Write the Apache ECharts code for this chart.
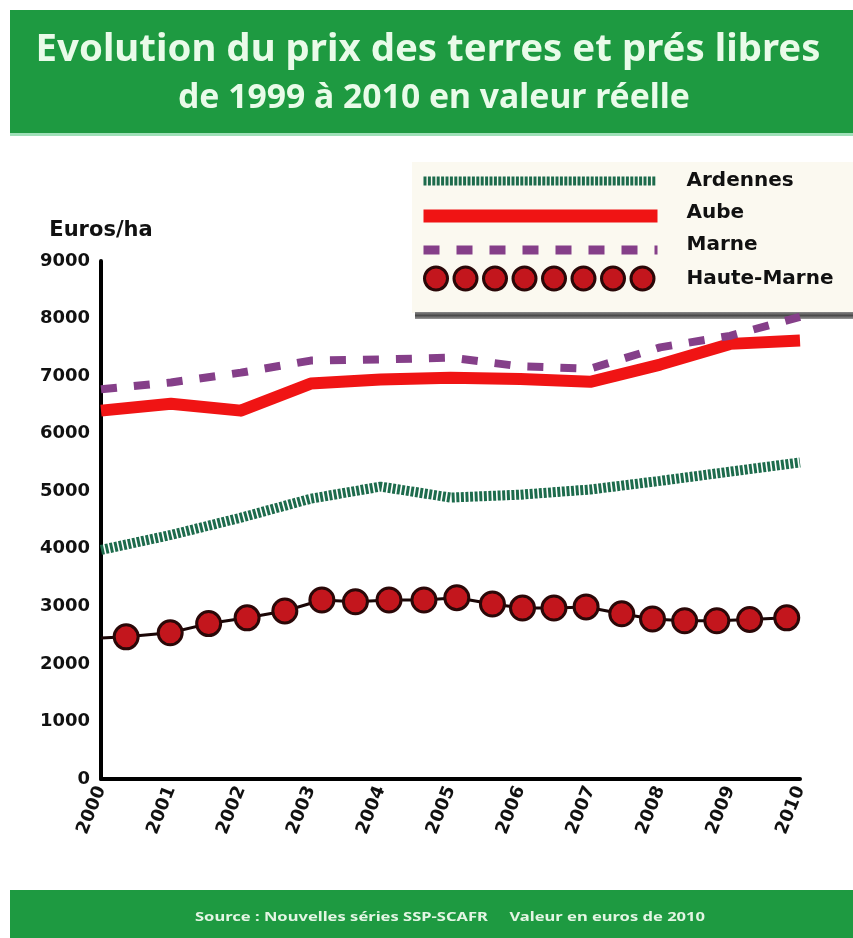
<!DOCTYPE html>
<html>
<head>
<meta charset="utf-8">
<script src="https://cdn.jsdelivr.net/npm/echarts@6/dist/echarts.min.js"></script>
<style>
html,body{margin:0;padding:0;background:#ffffff;}
#chart{width:853px;height:938px;}
</style>
</head>
<body>
<div id="chart"></div>
<script>
// ---- data ----
const years = [2000, 2001, 2002, 2003, 2004, 2005, 2006, 2007, 2008, 2009, 2010];
const yearLabels = ['2000', '2001', '2002', '2003', '2004', '2005', '2006', '2007', '2008', '2009', '2010'];
const ardennes = [3980, 4240, 4540, 4870, 5080, 4890, 4940, 5030, 5180, 5340, 5500];
const aube     = [6400, 6520, 6400, 6870, 6940, 6970, 6950, 6900, 7200, 7560, 7620];
const marne    = [6770, 6890, 7060, 7270, 7290, 7320, 7170, 7130, 7500, 7700, 8030];
// Haute-Marne is drawn as a chain of beads (positions in years, values in euros/ha)
const hauteMarneX = [2000, 2000.36, 2000.99, 2001.54, 2002.09, 2002.63, 2003.16, 2003.64, 2004.12, 2004.62, 2005.09,
                     2005.60, 2006.03, 2006.48, 2006.94, 2007.45, 2007.89, 2008.35, 2008.81, 2009.28, 2009.81, 2010];
const hauteMarneY = [2450, 2470, 2540, 2700, 2800, 2920, 3110, 3080, 3110, 3110, 3150,
                     3040, 2970, 2970, 2990, 2870, 2780, 2750, 2750, 2770, 2800, 2790];
const seriesNames = ['Ardennes', 'Aube', 'Marne', 'Haute-Marne'];
const yTickValues = [0, 1000, 2000, 3000, 4000, 5000, 6000, 7000, 8000, 9000];
const yTickLabels = ['0', '1000', '2000', '3000', '4000', '5000', '6000', '7000', '8000', '9000'];
const titleLine1 = 'Evolution du prix des terres et prés libres';
const titleLine2 = 'de 1999 à 2010 en valeur réelle';
const footerText = 'Source : Nouvelles séries SSP-SCAFR     Valeur en euros de 2010';
const yAxisName = 'Euros/ha';

// ---- styling helpers ----
const GREEN = '#1e9a41';
const C_ARD = '#1d6b4c', C_AUBE = '#f01414', C_MARNE = '#853f89', C_HM = '#c3161d';

function fitScale(text, font, target) {
  const ctx = document.createElement('canvas').getContext('2d');
  ctx.font = font;
  return target / ctx.measureText(text).width;
}

// legend icon paths (258 x 24 box)
function box() { return 'M0 0 M258 24 '; }
let ardIcon = box();
for (let x = 0; x < 232; x += 4.4) ardIcon += `M${x.toFixed(1)} 7.5 h3 v9 h-3 Z `;
const aubeIcon = box() + 'M0 8.5 h234 v13 h-234 Z';
let marneIcon = box();
for (let i = 0; i < 7; i++) marneIcon += `M${i * 33} 12.5 h16 v9 h-16 Z `;
marneIcon += 'M231 12.5 h3 v9 h-3 Z';
let hmIcon = box();
for (let i = 0; i < 8; i++) {
  const cx = 12.5 + i * 29.5, r = 11.5;
  hmIcon += `M${cx - r} 12 a${r} ${r} 0 1 0 ${2 * r} 0 a${r} ${r} 0 1 0 ${-2 * r} 0 Z `;
}

const f1 = 'bold 38px "Noto Sans"';
const f2 = 'bold 34px "Noto Sans"';
const f3 = 'bold 12px "Noto Sans"';
const s1 = fitScale(titleLine1, f1, 785);
const s2 = fitScale(titleLine2, f2, 512);
const s3 = fitScale(footerText, f3, 510);

const chart = echarts.init(document.getElementById('chart'), null, { renderer: 'canvas' });

const option = {
  animation: false,
  backgroundColor: '#ffffff',
  graphic: [
    { type: 'rect', shape: { x: 10, y: 10, width: 843, height: 124 }, style: { fill: GREEN }, z: 0 },
    { type: 'rect', shape: { x: 10, y: 133, width: 843, height: 3 }, style: { fill: '#9fe0b8' }, z: 0 },
    { type: 'text', x: 428, y: 50, scaleX: s1, z: 1,
      style: { text: titleLine1, fontSize: 38, fontWeight: 'bold', fontFamily: 'Noto Sans', fill: '#e9fbe9', align: 'center', verticalAlign: 'middle' } },
    { type: 'text', x: 434, y: 98, scaleX: s2, z: 1,
      style: { text: titleLine2, fontSize: 34, fontWeight: 'bold', fontFamily: 'Noto Sans', fill: '#e9fbe9', align: 'center', verticalAlign: 'middle' } },
    { type: 'rect', shape: { x: 10, y: 890, width: 843, height: 48 }, style: { fill: GREEN }, z: 0 },
    { type: 'text', x: 450, y: 918, scaleX: s3, z: 1,
      style: { text: footerText, fontSize: 12, fontWeight: 'bold', fontFamily: 'Noto Sans', fill: '#e3f5e3', align: 'center', verticalAlign: 'middle' } },
    // legend box and its shadow bar
    { type: 'rect', shape: { x: 412, y: 162, width: 441, height: 151 }, style: { fill: '#fbf9f0' }, z: 0 },
    { type: 'rect', shape: { x: 415, y: 312, width: 438, height: 7 }, z: 0,
      style: { fill: new echarts.graphic.LinearGradient(0, 0, 0, 1, [
        { offset: 0, color: '#8a8a8a' }, { offset: 0.5, color: '#4a4a4a' }, { offset: 1, color: '#9a9a9a' }]) } }
  ],
  grid: { left: 101, right: 53, top: 261, bottom: 159, containLabel: false },
  legend: {
    orient: 'vertical', left: 422, top: 169, padding: 0,
    itemWidth: 258, itemHeight: 24, itemGap: 8,
    symbolKeepAspect: false,
    selectedMode: false,
    textStyle: { fontSize: 20, fontWeight: 'bold', fontFamily: 'DejaVu Sans', color: '#111111' },
    data: [
      { name: seriesNames[0], icon: 'path://' + ardIcon, itemStyle: { color: C_ARD, borderWidth: 0 } },
      { name: seriesNames[1], icon: 'path://' + aubeIcon, itemStyle: { color: C_AUBE, borderWidth: 0 } },
      { name: seriesNames[2], icon: 'path://' + marneIcon, itemStyle: { color: C_MARNE, borderWidth: 0 } },
      { name: seriesNames[3], icon: 'path://' + hmIcon, itemStyle: { color: C_HM, borderColor: '#2a0808', borderWidth: 3 } }
    ]
  },
  xAxis: {
    type: 'value', min: years[0], max: years[years.length - 1], interval: 1,
    axisLine: { show: true, lineStyle: { color: '#000', width: 4 } },
    axisTick: { show: false },
    splitLine: { show: false },
    axisLabel: {
      rotate: 68, margin: 8, fontSize: 18, fontWeight: 'bold', fontFamily: 'DejaVu Sans', color: '#111',
      formatter: v => { const i = years.indexOf(Math.round(v)); return i >= 0 ? yearLabels[i] : ''; }
    }
  },
  yAxis: {
    type: 'value', min: yTickValues[0], max: yTickValues[yTickValues.length - 1], interval: 1000,
    name: yAxisName, nameLocation: 'end', nameGap: 20,
    nameTextStyle: { fontSize: 21, fontWeight: 'bold', fontFamily: 'DejaVu Sans', color: '#111', align: 'center' },
    axisLine: { show: true, lineStyle: { color: '#000', width: 4 } },
    axisTick: { show: false },
    splitLine: { show: false },
    axisLabel: {
      margin: 11, fontSize: 18, fontWeight: 'bold', fontFamily: 'DejaVu Sans', color: '#111',
      formatter: v => { const i = yTickValues.indexOf(Math.round(v)); return i >= 0 ? yTickLabels[i] : ''; }
    }
  },
  series: [
    { name: seriesNames[0], type: 'line', z: 3, symbol: 'none', showSymbol: false,
      data: years.map((y, i) => [y, ardennes[i]]),
      itemStyle: { color: C_ARD },
      lineStyle: { color: C_ARD, width: 10, type: [3, 1.6] } },
    { name: seriesNames[1], type: 'line', z: 3, symbol: 'none', showSymbol: false,
      data: years.map((y, i) => [y, aube[i]]),
      itemStyle: { color: C_AUBE },
      lineStyle: { color: C_AUBE, width: 12, join: 'round' } },
    { name: seriesNames[2], type: 'line', z: 4, symbol: 'none', showSymbol: false,
      data: years.map((y, i) => [y, marne[i]]),
      itemStyle: { color: C_MARNE },
      lineStyle: { color: C_MARNE, width: 8, type: [16, 17] } },
    { name: seriesNames[3], type: 'line', z: 5, symbol: 'circle', symbolSize: 24, showAllSymbol: true,
      data: hauteMarneX.map((x, i) => {
        const item = { value: [x, hauteMarneY[i]] };
        if (i === 0 || i === hauteMarneX.length - 1) item.symbol = 'none';
        return item;
      }),
      itemStyle: { color: C_HM, borderColor: '#2a0808', borderWidth: 3 },
      lineStyle: { color: '#1a0606', width: 3 } }
  ]
};
chart.setOption(option);
</script>
</body>
</html>
